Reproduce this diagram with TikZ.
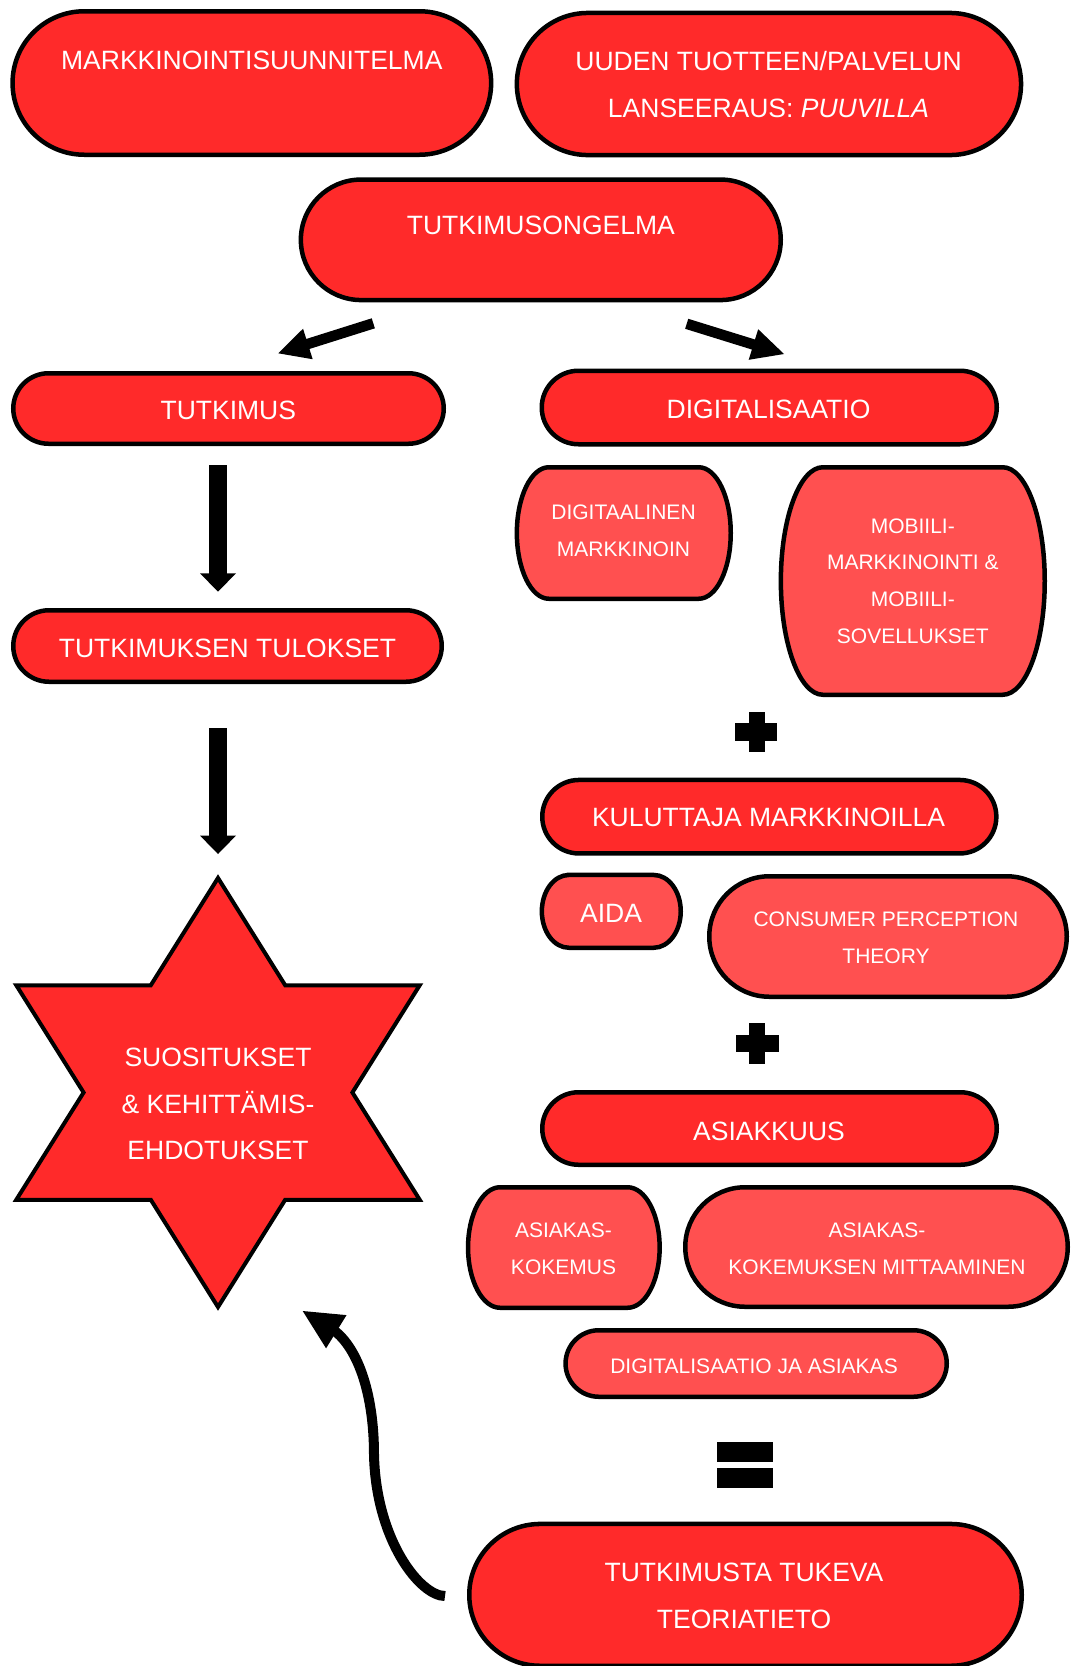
\documentclass[tikz,border=0pt]{standalone}
\usepackage{fontspec}
\setmainfont{Liberation Sans}
\usetikzlibrary{calc}
\definecolor{mainred}{HTML}{FF2A2A}
\definecolor{lightred}{HTML}{FF5050}
\newcommand\rbox[6]{%
  \pgfmathsetmacro\rbxa{#1+2.25}%
  \pgfmathsetmacro\rbya{#2+2.25}%
  \pgfmathsetmacro\rbxb{#3-2.25}%
  \pgfmathsetmacro\rbyb{#4-2.25}%
  \pgfmathsetmacro\rbry{(\rbyb-\rbya)/2}%
  \pgfmathsetmacro\rbrx{(#5)<0?\rbry:(#5)}%
  \draw[#6] (\rbxa+\rbrx,\rbya) -- (\rbxb-\rbrx,\rbya)
    arc[start angle=-90,end angle=90,x radius=\rbrx,y radius=\rbry]
    -- (\rbxa+\rbrx,\rbyb)
    arc[start angle=90,end angle=270,x radius=\rbrx,y radius=\rbry] -- cycle;}
\newcommand\blockarrow[5]{%
  \coordinate (#2-base) at ($(#2)!#4!(#1)$);
  \draw[line width=#3] (#1) -- ($(#2)!#4*0.85!(#1)$);
  \fill ($(#2-base)!#5!90:(#2)$) -- (#2) -- ($(#2-base)!#5!-90:(#2)$) -- cycle;}
\begin{document}
\begin{tikzpicture}[x=1pt,y=-1pt,
  box/.style={draw=black,line width=4.5pt,fill=mainred},
  lbox/.style={box,fill=lightred},
  lbl/.style={text=white,align=center,anchor=base,inner sep=0pt,font=\fontsize{26.5}{46.5}\selectfont},
  sml/.style={lbl,font=\fontsize{21}{36.7}\selectfont}]
\fill[white] (0,0) rectangle (1071,1666);
\useasboundingbox (0,0) rectangle (1071,1666);

% boxes
\rbox{10.3}{9}{493.4}{157}{-1}{box}
\rbox{514.6}{10.7}{1023.3}{157.3}{-1}{box}
\rbox{298.6}{177.3}{783}{302.3}{-1}{box}
\rbox{11}{371}{446}{446}{-1}{box}
\rbox{539.5}{368.5}{999}{446.5}{-1}{box}
\rbox{11}{608}{444}{684}{-1}{box}
\rbox{514.6}{465}{733}{601}{32}{lbox}
\rbox{778.6}{465}{1047}{697}{42}{lbox}
\rbox{540}{777.7}{998.6}{855.7}{-1}{box}
\rbox{539.6}{872.7}{683}{950}{27}{lbox}
\rbox{707}{874}{1069}{999}{-1}{lbox}
\rbox{540}{1090}{999}{1167}{-1}{box}
\rbox{465.8}{1185}{661.9}{1310}{32}{lbox}
\rbox{683}{1185}{1070}{1309}{-1}{lbox}
\rbox{563.3}{1328}{949}{1399}{-1}{lbox}
\rbox{467}{1521.7}{1024}{1668}{-1}{box}

% star
\draw[line width=4pt,fill=mainred,line join=miter] (218,878) -- (285.2,985.25) -- (419.7,985.25) -- (352.4,1092.5) -- (419.7,1199.75) -- (285.2,1199.75) -- (218,1307) -- (150.8,1199.75) -- (16.3,1199.75) -- (83.6,1092.5) -- (16.3,985.25) -- (150.8,985.25) -- cycle;

% texts (anchor base = baseline of the last line)
\node[lbl] (t1) at (251.8,69) {MARKKINOINTISUUNNITELMA};
\node[lbl] (t2) at (768.5,117) {UUDEN TUOTTEEN/PALVELUN\\LANSEERAUS: \textit{PUUVILLA}};
\node[lbl] (t3) at (540.8,234) {TUTKIMUSONGELMA};
\node[lbl] (t4) at (228.3,419.5) {TUTKIMUS};
\node[lbl] (t5) at (768.5,418.3) {DIGITALISAATIO};
\node[lbl] (t6) at (227.5,657.7) {TUTKIMUKSEN TULOKSET};
\node[sml] (t7) at (623.5,556) {DIGITAALINEN\\MARKKINOIN};
\node[sml] (t8) at (912.8,643.3) {MOBIILI-\\MARKKINOINTI \&\\MOBIILI-\\SOVELLUKSET};
\node[lbl] (t9) at (768.5,826.7) {KULUTTAJA MARKKINOILLA};
\node[lbl] (t10) at (611,922.7) {AIDA};
\node[sml] (t11) at (886,963.3) {CONSUMER PERCEPTION\\THEORY};
\node[lbl] (t12) at (769,1140) {ASIAKKUUS};
\node[sml] (t13) at (563.5,1274) {ASIAKAS-\\KOKEMUS};
\node[sml] (t14) at (877,1274) {ASIAKAS-\\KOKEMUKSEN MITTAAMINEN};
\node[sml] (t15) at (754,1373.3) {DIGITALISAATIO JA ASIAKAS};
\node[lbl] (t16) at (744,1628.3) {TUTKIMUSTA TUKEVA\\TEORIATIETO};
\node[lbl] (t17) at (218,1159.7) {SUOSITUKSET\\\& KEHITTÄMIS-\\EHDOTUKSET};

% arrows
\coordinate (la-s) at (373.3,323.3);
\coordinate (la-t) at (278.3,353.3);
\blockarrow{la-s}{la-t}{10.5pt}{31pt}{16pt}
\coordinate (ra-s) at (686.7,323.8);
\coordinate (ra-t) at (784,354);
\blockarrow{ra-s}{ra-t}{10.5pt}{32pt}{16pt}
\coordinate (d1-s) at (218,465);
\coordinate (d1-t) at (218,591.7);
\blockarrow{d1-s}{d1-t}{17.3pt}{18.4pt}{18pt}
\coordinate (d2-s) at (218,728);
\coordinate (d2-t) at (218,854);
\blockarrow{d2-s}{d2-t}{17.3pt}{18.4pt}{18pt}

% curved arrow
\coordinate (cs) at (445,1596);
\coordinate (cm) at (374,1455);
\coordinate (ct) at (302.7,1311);
\coordinate (cb) at (336.3,1331.7);
\coordinate (ce) at (332,1329);
\draw[line width=10pt] (cs) .. controls (420,1596) and (376,1540) .. (cm) .. controls (374,1390) and (356,1345) .. (ce);
\fill ($(cb)!19.5pt!90:(ct)$) -- (ct) -- ($(cb)!19.5pt!-90:(ct)$) -- cycle;

% plus and equals signs
\fill (734.5,723.3) rectangle (777.3,740.5);
\fill (749.3,711.7) rectangle (765,752.3);
\fill (736.3,1035) rectangle (778.7,1051.7);
\fill (749.3,1022.7) rectangle (765,1064);
\fill (716.5,1442) rectangle (772.8,1462);
\fill (716.5,1467.7) rectangle (772.8,1487.7);
\end{tikzpicture}
\end{document}
